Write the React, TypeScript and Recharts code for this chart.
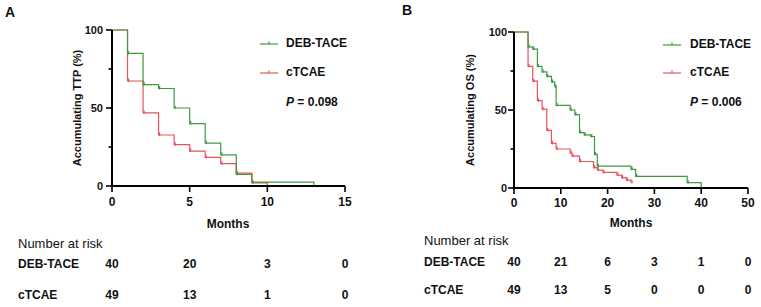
import React from "react";
import { LineChart, Line, XAxis, YAxis } from "recharts";

const GREEN = "#3f9a40";
const RED = "#e8525a";
const FONT = '"Liberation Sans", Arial, sans-serif';

// A: time to progression (months, % without progression)
const ttpDebMonths = [0, 1, 2, 3, 4, 5, 6, 7, 8, 9, 13];
const ttpDebPct = [100, 85, 65, 62.5, 50, 40, 27.5, 20, 7.5, 2.5, 0];
const ttpCMonths = [0, 1, 2, 3, 4, 5, 6, 7, 8, 9, 10];
const ttpCPct = [100, 67.3, 46.9, 32.7, 26.5, 22.4, 18.4, 14.3, 8.2, 2, 0];
const ttpTicks = [0, 5, 10, 15];
const ttpRiskDeb = [40, 20, 3, 0];
const ttpRiskC = [49, 13, 1, 0];

// B: overall survival
const osDebMonths = [0, 3, 4, 5, 6, 7, 8, 8.7, 9, 12, 13, 14, 15, 16.4, 17.2, 17.8, 25, 26, 37, 40];
const osDebPct = [100, 90.5, 89, 78, 74.5, 71.5, 68, 65, 53, 50, 47, 35.5, 34, 33, 21.5, 14, 12, 7.5, 3.5, 0];
const osCMonths = [0, 3, 4, 5, 6, 7, 8, 9, 12, 12.4, 14, 17, 17.8, 19, 22, 23, 24, 25];
const osCPct = [100, 78, 68.5, 56, 50.5, 37, 28.6, 25, 22.4, 20.4, 17, 13, 11.5, 10, 8.3, 6.6, 5, 3.6];
const osTicks = [0, 10, 20, 30, 40, 50];
const osRiskDeb = [40, 21, 6, 3, 1, 0];
const osRiskC = [49, 13, 5, 0, 0, 0];

const yTicks = [0, 25, 50, 75, 100];

const rows = (months: number[], pct: number[]) => months.map((t, i) => ({ t, s: pct[i] }));

const censorDot = (color: string) => (p: any) => {
  const { cx, cy, index, payload } = p;
  if (index === 0 || payload.s === 0) return <g key={`c${index}`} />;
  return <line key={`c${index}`} x1={cx + 1} x2={cx + 1} y1={cy - 2.5} y2={cy + 1} stroke={color} strokeWidth={1.2} />;
};

const txt = { fontFamily: FONT, fill: "#111", fontWeight: "bold" as const };

function YTick(props: any) {
  const { x, y, payload, gap } = props;
  const major = payload.value % 50 === 0;
  return (
    <g>
      <line x1={x - (major ? 6 : 3.5)} x2={x} y1={y} y2={y} stroke="#000" strokeWidth={1.6} />
      {major && (
        <text x={x - gap} y={y} textAnchor="end" dominantBaseline="central" fontSize={11} {...txt}>
          {payload.value}
        </text>
      )}
    </g>
  );
}

function XTick(props: any) {
  const { x, y, payload, ticks, deb, c, off } = props;
  const i = ticks.indexOf(payload.value);
  return (
    <g>
      <line x1={x} x2={x} y1={y} y2={y + 6} stroke="#000" strokeWidth={1.6} />
      <text x={x} y={y + off[0]} textAnchor="middle" dominantBaseline="central" fontSize={12} {...txt}>
        {payload.value}
      </text>
      <text x={x} y={y + off[1]} textAnchor="middle" dominantBaseline="central" fontSize={12} {...txt}>
        {deb[i]}
      </text>
      <text x={x} y={y + off[2]} textAnchor="middle" dominantBaseline="central" fontSize={12} {...txt}>
        {c[i]}
      </text>
    </g>
  );
}

function Mark({ color }: { color: string }) {
  return (
    <svg width={18} height={6} style={{ display: "block" }}>
      <line x1={0} x2={18} y1={4} y2={4} stroke={color} strokeWidth={1.2} />
      <line x1={9} x2={9} y1={1.5} y2={4} stroke={color} strokeWidth={1.2} />
    </svg>
  );
}

const abs = (left: number, top: number, extra: React.CSSProperties = {}): React.CSSProperties => ({
  position: "absolute",
  left,
  top,
  transform: "translateY(-50%)",
  lineHeight: 1,
  whiteSpace: "nowrap",
  fontFamily: FONT,
  color: "#111",
  ...extra,
});

function Panel(props: any) {
  const { left, width, top, bottom, plotLeft, right, xMax, ticks, deb, c, riskDeb, riskC, off, gap, tag, yLabel, yLabelX, lg, pValue, months, risk } = props;
  const plotBottom = 307 - bottom;
  const plotMid = (top + plotBottom) / 2;
  return (
    <div style={{ position: "absolute", left, top: 0, width, height: 307 }}>
      <LineChart width={width} height={307} margin={{ top, right, left: 0, bottom: 0 }}>
        <XAxis
          dataKey="t"
          type="number"
          domain={[0, xMax]}
          ticks={ticks}
          interval={0}
          height={bottom}
          tickSize={0}
          tickMargin={0}
          tickLine={false}
          axisLine={{ stroke: "#000", strokeWidth: 2 }}
          tick={<XTick ticks={ticks} deb={riskDeb} c={riskC} off={off} />}
        />
        <YAxis
          type="number"
          domain={[0, 100]}
          ticks={yTicks}
          interval={0}
          width={plotLeft}
          tickSize={0}
          tickMargin={0}
          tickLine={false}
          axisLine={{ stroke: "#000", strokeWidth: 2 }}
          tick={<YTick gap={gap} />}
        />
        <Line data={c} dataKey="s" type="stepAfter" stroke={RED} strokeWidth={1.2} dot={censorDot(RED)} isAnimationActive={false} />
        <Line data={deb} dataKey="s" type="stepAfter" stroke={GREEN} strokeWidth={1.2} dot={censorDot(GREEN)} isAnimationActive={false} />
      </LineChart>
      <div style={abs(tag[0], tag[1], { fontSize: 14, fontWeight: "bold" })}>{tag[2]}</div>
      <div
        style={{
          position: "absolute",
          left: yLabelX,
          top: plotMid,
          transform: "translate(-50%, -50%) rotate(-90deg)",
          whiteSpace: "nowrap",
          lineHeight: 1,
          fontFamily: FONT,
          fontSize: 11,
          fontWeight: "bold",
          color: "#111",
        }}
      >
        {yLabel}
      </div>
      <div style={{ position: "absolute", left: lg[0], top: lg[1] - 3 }}>
        <Mark color={GREEN} />
      </div>
      <div style={abs(lg[2], lg[1], { fontSize: 12, fontWeight: "bold" })}>DEB-TACE</div>
      <div style={{ position: "absolute", left: lg[0], top: lg[3] - 3 }}>
        <Mark color={RED} />
      </div>
      <div style={abs(lg[2], lg[3], { fontSize: 12, fontWeight: "bold" })}>cTCAE</div>
      <div style={abs(lg[2], lg[4], { fontSize: 12, fontWeight: "bold" })}>
        <i>P</i> = {pValue}
      </div>
      <div style={abs(months[0], months[1], { fontSize: 12, fontWeight: "bold", transform: "translate(-50%, -50%)" })}>Months</div>
      <div style={abs(risk[0], risk[1], { fontSize: 13 })}>Number at risk</div>
      <div style={abs(risk[0], plotBottom + off[1], { fontSize: 12, fontWeight: "bold" })}>DEB-TACE</div>
      <div style={abs(risk[0], plotBottom + off[2], { fontSize: 12, fontWeight: "bold" })}>cTCAE</div>
    </div>
  );
}

export default function App() {
  return (
    <div style={{ position: "absolute", left: 0, top: 0, width: 761, height: 307, background: "#fff", overflow: "hidden" }}>
      <Panel
        left={0}
        width={380}
        top={30}
        bottom={121}
        plotLeft={112}
        right={35}
        xMax={15}
        ticks={ttpTicks}
        deb={rows(ttpDebMonths, ttpDebPct)}
        c={rows(ttpCMonths, ttpCPct)}
        riskDeb={ttpRiskDeb}
        riskC={ttpRiskC}
        off={[16, 78, 109]}
        gap={9}
        tag={[5, 12, "A"]}
        yLabel="Accumulating TTP (%)"
        yLabelX={77}
        lg={[260, 43, 286, 72, 102]}
        pValue="0.098"
        months={[228, 224]}
        risk={[18, 243]}
      />
      <Panel
        left={380}
        width={381}
        top={32}
        bottom={119}
        plotLeft={134}
        right={13}
        xMax={50}
        ticks={osTicks}
        deb={rows(osDebMonths, osDebPct)}
        c={rows(osCMonths, osCPct)}
        riskDeb={osRiskDeb}
        riskC={osRiskC}
        off={[15, 74, 102]}
        gap={7}
        tag={[22, 10, "B"]}
        yLabel="Accumulating OS (%)"
        yLabelX={90}
        lg={[283, 44, 310, 72, 102]}
        pValue="0.006"
        months={[251, 223]}
        risk={[44, 240]}
      />
    </div>
  );
}
